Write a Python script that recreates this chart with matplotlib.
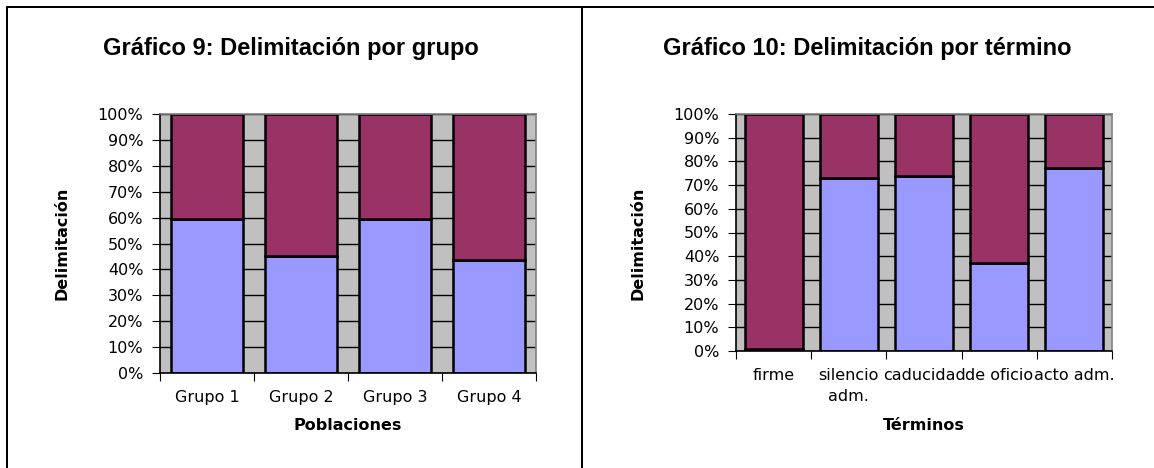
import matplotlib.pyplot as plt
from matplotlib.lines import Line2D

# data
grupos = ['Grupo 1', 'Grupo 2', 'Grupo 3', 'Grupo 4']
grupos_si = [59.5, 45.0, 59.5, 43.5]
terminos = ['firme', 'silencio\nadm.', 'caducidad', 'de oficio', 'acto adm.']
terminos_si = [1.0, 73.2, 73.7, 37.0, 77.2]
pct_ticks = list(range(0, 101, 10))

BLUE = '#9999FF'
MAROON = '#993366'
PLOT_BG = '#C0C0C0'

W, H = 1154, 468
fig = plt.figure(figsize=(W / 100, H / 100), dpi=100)


def px_axes(x0, y0, x1, y1):
    return fig.add_axes([x0 / W, 1 - y1 / H, (x1 - x0) / W, (y1 - y0) / H])


def draw_panel(ax, cats, lower, xlabel, top, bottom):
    n = len(cats)
    upper = [100 - v for v in lower]
    xs = list(range(n))
    ax.set_facecolor(PLOT_BG)
    ax.set_axisbelow(True)
    ax.yaxis.grid(True, color='black', lw=1)
    ax.bar(xs, lower, width=0.77, color=BLUE, edgecolor='black', lw=1.8)
    ax.bar(xs, upper, bottom=lower, width=0.77, color=MAROON,
           edgecolor='black', lw=1.8)
    ax.set_xlim(-0.5, n - 0.5)
    ax.set_ylim(0, 100)
    ax.set_yticks(pct_ticks)
    ax.set_yticklabels([f'{t}%' for t in pct_ticks], fontsize=11.5)
    ax.set_xticks([i - 0.5 for i in range(n + 1)])
    ax.set_xticklabels([])
    ax.set_xticks(xs, minor=True)
    ax.set_xticklabels(cats, minor=True, fontsize=11.5, linespacing=1.5)
    ax.tick_params(axis='x', which='minor', length=0, pad=12)
    ax.tick_params(axis='x', which='major', length=6, direction='out')
    ax.tick_params(axis='y', length=6, direction='out', pad=6)
    for s in ('top', 'right'):
        ax.spines[s].set_color('#808080')
        ax.spines[s].set_linewidth(1.2)
    for s in ('left', 'bottom'):
        ax.spines[s].set_color('black')
        ax.spines[s].set_linewidth(1.2)
    hpx = bottom - top
    ax.set_xlabel(xlabel, fontsize=11.5, fontweight='bold', va='center')
    ax.xaxis.set_label_coords(0.5, (bottom - 425) / hpx)
    ax.set_ylabel('Delimitación', fontsize=11.5, fontweight='bold', va='center')
    ax.yaxis.set_label_coords(-98 / 376, 0.5 + (bottom - 243 - hpx / 2) / hpx)


ax1 = px_axes(160, 114, 536, 373)
draw_panel(ax1, grupos, grupos_si, 'Poblaciones', 114, 373)

ax2 = px_axes(736, 114, 1112, 351)
draw_panel(ax2, terminos, terminos_si, 'Términos', 114, 351)

title_font = dict(fontsize=17, fontweight='bold', family='Liberation Sans',
                  ha='center', va='center')
fig.text(291 / W, 1 - 48 / H, 'Gráfico 9: Delimitación por grupo', **title_font)
fig.text(867 / W, 1 - 48 / H, 'Gráfico 10: Delimitación por término', **title_font)

# outer frames around the two charts
lw = 2 * 72 / 100
for xs, ys in [([7, 7], [468, 7]), ([7, 1154], [7, 7]), ([582, 582], [7, 468])]:
    fig.add_artist(Line2D([x / W for x in xs], [1 - y / H for y in ys],
                          color='black', lw=lw))

fig.savefig('out.png', dpi=100)
